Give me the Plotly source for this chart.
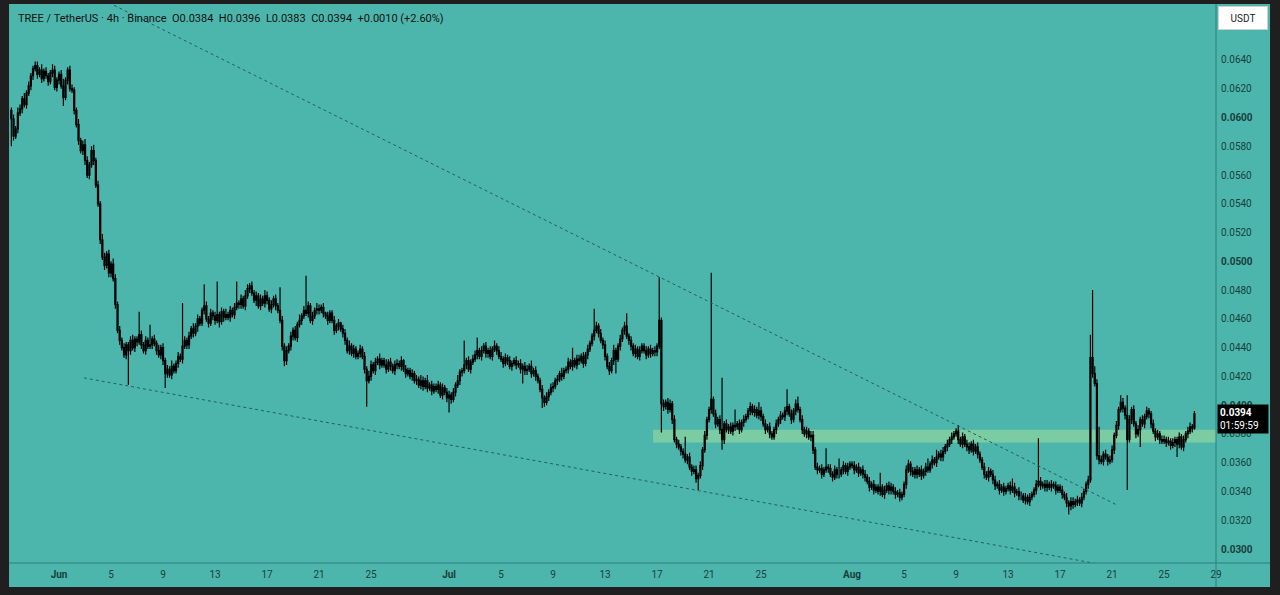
import pandas as pd
import plotly.graph_objects as go

# TREE/USDT 4h candles, prices in units of 0.0001 USDT
first_open_e4 = 605

close_e4 = [
    599, 587, 592, 603,  # May 28
    606, 613, 609, 617, 622, 629,  # May 29
    634, 636, 630, 633, 627, 632,  # May 30
    629, 625, 631, 633, 621, 626,  # May 31
    630, 622, 614, 626, 633, 620,  # Jun 1
    619, 605, 595, 584, 577, 581,  # Jun 2
    570, 560, 567, 577, 570, 553,  # Jun 3
    540, 515, 503, 497, 505, 492,  # Jun 4
    498, 488, 470, 452, 445, 440,  # Jun 5
    435, 442, 438, 445, 440, 446,  # Jun 6
    444, 449, 442, 438, 445, 441,  # Jun 7
    442, 446, 443, 438, 435, 440,  # Jun 8
    431, 422, 425, 421, 427, 424,  # Jun 9
    429, 434, 432, 441, 445, 442,  # Jun 10
    448, 453, 450, 455, 460, 457,  # Jun 11
    466, 469, 460, 457, 464, 462,  # Jun 12
    459, 463, 458, 465, 461, 463,  # Jun 13
    461, 466, 463, 468, 471, 470,  # Jun 14
    474, 469, 476, 481, 483, 478,  # Jun 15
    473, 476, 469, 474, 471, 476,  # Jun 16
    473, 467, 470, 474, 469, 466,  # Jun 17
    459, 441, 431, 438, 441, 448,  # Jun 18
    452, 447, 456, 459, 462, 466,  # Jun 19
    464, 469, 459, 462, 466, 467,  # Jun 20
    466, 468, 464, 462, 459, 464,  # Jun 21
    459, 452, 455, 457, 453, 450,  # Jun 22
    445, 438, 441, 436, 439, 434,  # Jun 23
    436, 439, 434, 425, 417, 420,  # Jun 24
    428, 424, 430, 432, 428, 431,  # Jun 25
    428, 425, 430, 427, 424, 428,  # Jun 26
    429, 427, 431, 425, 422, 424,  # Jun 27
    420, 422, 417, 418, 414, 417,  # Jun 28
    413, 417, 412, 414, 410, 413,  # Jun 29
    411, 414, 407, 412, 409, 405,  # Jun 30
    407, 404, 409, 414, 417, 423,  # Jul 1
    424, 428, 431, 425, 430, 432,  # Jul 2
    435, 438, 434, 438, 441, 436,  # Jul 3
    438, 434, 439, 441, 438, 434,  # Jul 4
    432, 429, 433, 431, 427, 429,  # Jul 5
    431, 428, 429, 425, 427, 424,  # Jul 6
    425, 427, 422, 424, 420, 417,  # Jul 7
    411, 405, 402, 406, 409, 412,  # Jul 8
    413, 417, 418, 422, 420, 424,  # Jul 9
    425, 430, 427, 431, 428, 432,  # Jul 10
    431, 434, 429, 435, 439, 443,  # Jul 11
    448, 452, 455, 450, 445, 442,  # Jul 12
    434, 427, 424, 431, 438, 432,  # Jul 13
    441, 446, 452, 455, 448, 445,  # Jul 14
    441, 436, 439, 434, 438, 441,  # Jul 15
    438, 435, 439, 436, 438, 437,  # Jul 16
    441, 459, 401, 399, 402, 397,  # Jul 17
    401, 390, 376, 373, 371, 368,  # Jul 18
    366, 362, 364, 357, 354, 355,  # Jul 19
    349, 351, 358, 369, 379, 390,  # Jul 20
    397, 404, 394, 387, 390, 383,  # Jul 21
    376, 387, 383, 385, 382, 386,  # Jul 22
    385, 387, 383, 388, 390, 392,  # Jul 23
    396, 399, 395, 397, 393, 396,  # Jul 24
    392, 387, 383, 385, 380, 378,  # Jul 25
    383, 387, 390, 393, 392, 396,  # Jul 26
    399, 394, 390, 396, 401, 397,  # Jul 27
    390, 383, 380, 382, 378, 379,  # Jul 28
    369, 357, 355, 356, 352, 355,  # Jul 29
    357, 356, 352, 350, 355, 352,  # Jul 30
    352, 355, 358, 354, 357, 359,  # Jul 31
    358, 355, 357, 353, 355, 352,  # Aug 1
    350, 347, 343, 345, 341, 343,  # Aug 2
    340, 343, 338, 341, 344, 341,  # Aug 3
    343, 340, 338, 339, 336, 338,  # Aug 4
    345, 355, 359, 354, 352, 355,  # Aug 5
    352, 355, 351, 354, 357, 355,  # Aug 6
    359, 362, 360, 364, 366, 364,  # Aug 7
    368, 371, 373, 376, 378, 380,  # Aug 8
    382, 376, 373, 378, 373, 371,  # Aug 9
    369, 373, 368, 371, 366, 362,  # Aug 10
    357, 352, 350, 354, 352, 348,  # Aug 11
    344, 345, 341, 343, 340, 342,  # Aug 12
    344, 341, 343, 339, 340, 337,  # Aug 13
    337, 334, 336, 333, 336, 338,  # Aug 14
    341, 345, 347, 344, 345, 343,  # Aug 15
    345, 343, 345, 344, 341, 343,  # Aug 16
    341, 338, 336, 332, 330, 333,  # Aug 17
    331, 333, 334, 332, 336, 340,  # Aug 18
    345, 348, 433, 422, 415, 365,  # Aug 19
    362, 361, 366, 364, 361, 362,  # Aug 20
    369, 379, 386, 397, 402, 398,  # Aug 21
    393, 376, 390, 397, 387, 380,  # Aug 22
    383, 390, 387, 392, 396, 394,  # Aug 23
    387, 382, 378, 380, 376, 375,  # Aug 24
    376, 374, 375, 372, 374, 376,  # Aug 25
    373, 378, 371, 376, 380, 382,  # Aug 26
    385, 384, 394,  # Aug 27
]

# wick above the body / below the body, same units
up_wick_e4 = [
    2, 3, 2, 4,
    3, 2, 4, 2, 3, 2,
    2, 3, 3, 2, 4, 2,
    3, 2, 2, 4, 3, 2,
    2, 3, 5, 2, 2, 3,
    3, 2, 2, 4, 2, 3,
    4, 3, 2, 3, 4, 2,
    3, 2, 4, 3, 2, 3,
    2, 4, 3, 2, 3, 2,
    3, 2, 2, 3, 4, 2,
    2, 16, 3, 2, 3, 2,
    14, 2, 3, 2, 4, 2,
    3, 2, 3, 2, 4, 2,
    2, 3, 2, 30, 3, 2,
    3, 2, 4, 2, 3, 2,
    2, 15, 3, 2, 3, 2,
    3, 23, 2, 3, 2, 4,
    2, 3, 2, 3, 15, 2,
    3, 2, 4, 3, 2, 3,
    2, 3, 2, 3, 2, 4,
    3, 2, 3, 2, 3, 2,
    16, 3, 2, 3, 2, 3,
    2, 3, 2, 4, 2, 3,
    24, 3, 2, 3, 2, 4,
    3, 2, 3, 1, 3, 2,
    2, 3, 2, 3, 1, 3,
    3, 2, 4, 2, 3, 2,
    2, 3, 2, 3, 2, 4,
    3, 2, 3, 2, 4, 2,
    2, 4, 2, 3, 2, 3,
    3, 2, 3, 1, 3, 2,
    2, 3, 2, 3, 2, 4,
    3, 2, 4, 2, 3, 2,
    2, 3, 2, 3, 2, 3,
    3, 2, 3, 2, 4, 2,
    2, 17, 2, 3, 2, 3,
    3, 9, 2, 3, 2, 3,
    2, 3, 2, 4, 2, 3,
    3, 2, 3, 2, 3, 2,
    2, 3, 2, 3, 2, 3,
    3, 2, 4, 2, 3, 2,
    2, 3, 2, 3, 2, 3,
    3, 2, 3, 2, 4, 2,
    2, 3, 2, 9, 2, 3,
    3, 2, 3, 2, 3, 2,
    2, 15, 3, 2, 3, 2,
    3, 2, 3, 2, 4, 2,
    2, 3, 2, 3, 9, 2,
    3, 2, 3, 2, 3, 2,
    2, 3, 2, 3, 2, 3,
    2, 30, 2, 3, 2, 3,
    3, 2, 3, 2, 3, 2,
    2, 12, 2, 3, 2, 3,
    3, 2, 3, 2, 3, 2,
    2, 88, 2, 3, 2, 3,
    36, 2, 3, 2, 3, 2,
    11, 2, 3, 2, 3, 2,
    2, 3, 2, 3, 2, 6,
    3, 2, 3, 2, 3, 2,
    2, 3, 2, 3, 2, 3,
    12, 2, 3, 2, 3, 5,
    2, 3, 2, 3, 2, 3,
    3, 2, 3, 2, 3, 2,
    13, 2, 3, 2, 3, 2,
    11, 2, 3, 2, 3, 2,
    2, 3, 2, 3, 2, 3,
    3, 2, 3, 2, 3, 2,
    2, 10, 2, 3, 2, 3,
    3, 2, 3, 2, 3, 2,
    2, 3, 3, 2, 3, 2,
    3, 2, 3, 2, 3, 6,
    2, 3, 2, 5, 2, 3,
    3, 2, 3, 2, 3, 2,
    2, 4, 2, 3, 2, 3,
    3, 2, 3, 2, 3, 2,
    2, 3, 2, 3, 2, 3,
    3, 2, 3, 2, 3, 2,
    2, 3, 6, 3, 2, 3,
    3, 2, 3, 2, 3, 2,
    2, 3, 30, 3, 2, 3,
    3, 2, 3, 2, 3, 2,
    2, 3, 2, 3, 2, 3,
    3, 2, 3, 2, 3, 2,
    2, 3, 16, 47, 5, 3,
    20, 3, 2, 3, 2, 3,
    3, 2, 3, 2, 5, 3,
    2, 14, 3, 2, 3, 2,
    3, 2, 3, 2, 3, 2,
    2, 3, 2, 3, 2, 3,
    3, 2, 3, 2, 3, 2,
    2, 3, 2, 3, 2, 3,
    3, 2, 2,
]

down_wick_e4 = [
    19, 3, 2, 3,
    2, 3, 2, 3, 2, 3,
    3, 2, 3, 2, 3, 2,
    2, 3, 2, 3, 2, 3,
    3, 2, 6, 2, 3, 2,
    2, 3, 2, 3, 2, 3,
    3, 2, 3, 2, 3, 2,
    2, 3, 2, 3, 2, 3,
    3, 2, 3, 2, 3, 2,
    2, 3, 24, 3, 2, 3,
    3, 2, 3, 2, 3, 2,
    2, 3, 2, 3, 2, 3,
    3, 10, 3, 2, 3, 2,
    2, 3, 2, 3, 2, 3,
    3, 2, 3, 2, 4, 2,
    2, 3, 2, 3, 2, 3,
    3, 2, 4, 2, 3, 2,
    2, 3, 2, 3, 2, 3,
    3, 2, 3, 2, 3, 2,
    2, 4, 2, 3, 2, 3,
    3, 2, 3, 2, 3, 2,
    2, 3, 4, 3, 2, 3,
    3, 2, 3, 2, 3, 2,
    2, 3, 2, 3, 2, 3,
    3, 2, 3, 2, 3, 2,
    2, 3, 2, 3, 2, 3,
    3, 2, 3, 2, 3, 2,
    2, 3, 2, 3, 18, 2,
    3, 2, 3, 2, 3, 2,
    2, 3, 2, 3, 2, 3,
    3, 2, 3, 2, 3, 2,
    2, 3, 2, 3, 2, 3,
    3, 2, 3, 2, 3, 2,
    2, 3, 2, 3, 2, 3,
    10, 3, 2, 3, 2, 3,
    3, 2, 3, 2, 3, 2,
    2, 3, 2, 3, 2, 3,
    3, 2, 3, 2, 3, 2,
    2, 3, 2, 3, 2, 3,
    2, 3, 2, 3, 10, 3,
    3, 2, 3, 2, 3, 2,
    2, 7, 3, 2, 3, 2,
    3, 2, 3, 2, 3, 2,
    2, 3, 2, 3, 2, 3,
    3, 2, 3, 2, 3, 2,
    2, 3, 2, 3, 2, 3,
    3, 2, 3, 2, 3, 10,
    2, 3, 2, 3, 2, 3,
    3, 2, 3, 2, 3, 2,
    2, 3, 2, 3, 2, 3,
    3, 2, 20, 3, 2, 3,
    2, 3, 2, 3, 2, 3,
    3, 2, 3, 2, 3, 2,
    3, 8, 2, 3, 2, 3,
    2, 3, 2, 3, 2, 3,
    7, 3, 2, 3, 2, 3,
    3, 2, 3, 2, 3, 2,
    2, 3, 2, 3, 2, 3,
    3, 2, 3, 2, 3, 2,
    2, 3, 2, 3, 2, 3,
    3, 2, 3, 2, 3, 2,
    2, 3, 2, 3, 2, 3,
    3, 2, 3, 2, 3, 2,
    2, 3, 2, 3, 2, 3,
    3, 2, 3, 2, 3, 2,
    2, 3, 2, 3, 2, 3,
    3, 2, 3, 2, 3, 2,
    2, 3, 2, 3, 2, 3,
    3, 2, 3, 2, 3, 2,
    2, 3, 2, 3, 2, 3,
    3, 2, 3, 2, 3, 2,
    2, 3, 2, 3, 2, 3,
    3, 2, 3, 2, 3, 2,
    2, 3, 2, 3, 2, 3,
    3, 2, 3, 2, 3, 2,
    2, 3, 2, 3, 2, 3,
    3, 2, 3, 2, 3, 2,
    2, 3, 2, 3, 2, 3,
    3, 2, 3, 2, 3, 2,
    2, 3, 2, 3, 2, 3,
    3, 2, 3, 2, 3, 2,
    2, 3, 2, 3, 6, 3,
    3, 2, 3, 2, 3, 2,
    2, 3, 2, 3, 2, 3,
    3, 2, 3, 2, 3, 2,
    2, 3, 2, 3, 2, 3,
    3, 35, 2, 3, 2, 3,
    2, 12, 2, 3, 2, 3,
    3, 2, 3, 2, 3, 2,
    2, 3, 2, 3, 2, 3,
    9, 3, 2, 3, 2, 3,
    2, 3, 1,
]

assert len(close_e4) == len(up_wick_e4) == len(down_wick_e4), (
    len(close_e4), len(up_wick_e4), len(down_wick_e4))

# drawn trend lines and support zone
upper_trend_t = ["2025-06-05 05:30", "2025-08-21 07:00"]
upper_trend_p = [0.0678, 0.0331]
lower_trend_t = ["2025-06-02 22:00", "2025-08-20 22:00"]
lower_trend_p = [0.0419, 0.0288]
zone_start = "2025-07-16 16:45"
zone_low, zone_high = 0.0374, 0.0383

price_ticks = [0.0300, 0.0320, 0.0340, 0.0360, 0.0380, 0.0400, 0.0420, 0.0440, 0.0460,
               0.0480, 0.0500, 0.0520, 0.0540, 0.0560, 0.0580, 0.0600, 0.0620, 0.0640]
date_ticks = ["2025-06-01", "2025-06-05", "2025-06-09", "2025-06-13", "2025-06-17",
              "2025-06-21", "2025-06-25", "2025-07-01", "2025-07-05", "2025-07-09",
              "2025-07-13", "2025-07-17", "2025-07-21", "2025-07-25", "2025-08-01",
              "2025-08-05", "2025-08-09", "2025-08-13", "2025-08-17", "2025-08-21",
              "2025-08-25", "2025-08-29"]
date_labels = ["<b>Jun</b>", "5", "9", "13", "17", "21", "25", "<b>Jul</b>", "5", "9",
               "13", "17", "21", "25", "<b>Aug</b>", "5", "9", "13", "17", "21", "25", "29"]

x_range = ["2025-05-28 05:30", "2025-08-28 23:50"]
y_range = [0.02903, 0.06782]

times = pd.date_range("2025-05-28 08:00", periods=len(close_e4), freq="4h")
closes = [c / 10000 for c in close_e4]
opens = [first_open_e4 / 10000] + closes[:-1]
highs = [max(o, c) + u / 10000 for o, c, u in zip(opens, closes, up_wick_e4)]
lows = [min(o, c) - d / 10000 for o, c, d in zip(opens, closes, down_wick_e4)]

TEAL = "#4db6ac"
LINE = "#2e7f78"

fig = go.Figure()
fig.add_trace(go.Candlestick(
    x=times, open=opens, high=highs, low=lows, close=closes,
    increasing=dict(line=dict(color="#000000", width=1.2), fillcolor="#a6d1cc"),
    decreasing=dict(line=dict(color="#000000", width=1.2), fillcolor="#000000"),
    whiskerwidth=0, hoverinfo="skip", showlegend=False,
))
for tx, ty in [(upper_trend_t, upper_trend_p), (lower_trend_t, lower_trend_p)]:
    fig.add_trace(go.Scatter(
        x=tx, y=ty, mode="lines",
        line=dict(color="#22605b", width=1, dash="dot"),
        hoverinfo="skip", showlegend=False,
    ))

shapes = [
    # teal panel behind plot + both axes
    dict(type="rect", xref="paper", yref="paper", x0=-0.0008, x1=1.0448, y0=-0.043, y1=1.0018,
         fillcolor=TEAL, line=dict(width=0), layer="below"),
    # support zone
    dict(type="rect", xref="x", yref="y", x0=zone_start, x1=x_range[1], y0=zone_low, y1=zone_high,
         fillcolor="rgba(190,235,150,0.42)", line=dict(width=0), layer="below"),
    # price-scale separator and time-scale line
    dict(type="line", xref="paper", yref="paper", x0=1.0, x1=1.0, y0=-0.043, y1=1.0018,
         line=dict(color=LINE, width=1)),
    dict(type="line", xref="paper", yref="paper", x0=-0.0008, x1=1.0448, y0=0, y1=0,
         line=dict(color=LINE, width=1)),
]

annotations = [
    dict(xref="paper", yref="paper", x=0.005, y=0.9767, xanchor="left", yanchor="middle",
         showarrow=False,
         text="TREE / TetherUS · 4h · Binance  O0.0384  H0.0396  L0.0383  C0.0394  +0.0010 (+2.60%)",
         font=dict(family="Roboto", size=11, color="#111111")),
    dict(xref="paper", yref="paper", x=1.0224, y=0.9767, xanchor="center", yanchor="middle",
         showarrow=False, text="USDT", bgcolor="#ffffff", bordercolor="#d0d0d0", borderwidth=1,
         borderpad=3, width=42, height=16, font=dict(family="Roboto", size=10, color="#222222")),
    dict(xref="paper", yref="y", x=1.0008, y=0.0394, yshift=-5, xanchor="left", yanchor="middle",
         showarrow=False, text="<b>0.0394</b><br>01:59:59", align="left", bgcolor="#000000",
         borderpad=2, width=46, font=dict(family="Roboto", size=10, color="#ffffff")),
]

price_labels = []
for p in price_ticks:
    s = f"{p:.4f}"
    price_labels.append(f"<b>{s}</b>" if s in ("0.0300", "0.0400", "0.0500", "0.0600") else s)

fig.update_layout(
    width=1280, height=595,
    margin=dict(l=10, r=64, t=5, b=32),
    paper_bgcolor="#1f1f1f", plot_bgcolor=TEAL,
    shapes=shapes, annotations=annotations,
    showlegend=False,
    xaxis=dict(type="date", range=x_range, rangeslider=dict(visible=False),
               tickvals=date_ticks, ticktext=date_labels, showgrid=False, zeroline=False,
               ticks="", ticklabelstandoff=4,
               tickfont=dict(family="Roboto", size=10, color="#173f3c")),
    yaxis=dict(side="right", range=y_range, tickvals=price_ticks, ticktext=price_labels,
               showgrid=False, zeroline=False, ticks="", ticklabelstandoff=4,
               tickfont=dict(family="Roboto", size=10, color="#173f3c")),
)

# drop the page's default body margin so the figure sits at the window's corner
fig.write_html(
    "out.html",
    config={"displayModeBar": False},
    post_script="document.body.style.margin='0';document.body.style.background='#1f1f1f';",
)
